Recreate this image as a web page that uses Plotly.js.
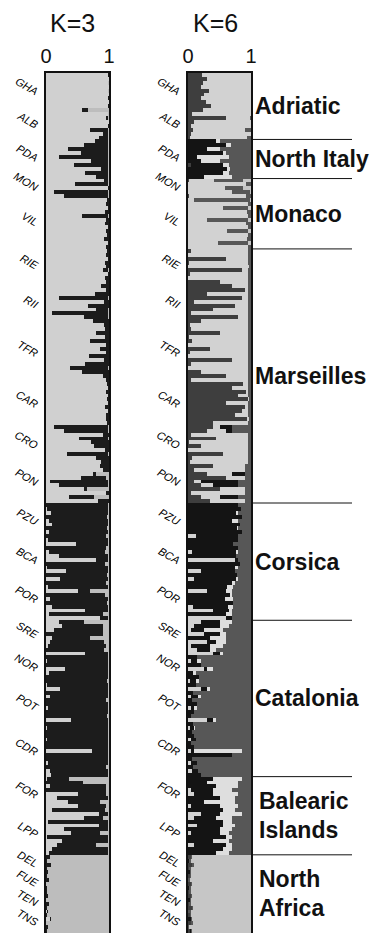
<!DOCTYPE html>
<html><head><meta charset="utf-8">
<script src="https://cdn.plot.ly/plotly-3.0.1.min.js"></script>
<style>html,body{margin:0;padding:0;background:#fff;} #chart{width:385px;height:933px;}</style>
</head><body><div id="chart"></div>
<script>
// Population codes (top to bottom)
const POPS = ['GHA','ALB','PDA','MON','VIL','RIE','RII','TFR','CAR','CRO','PON','PZU','BCA','POR','SRE','NOR','POT','CDR','FOR','LPP','DEL','FUE','TEN','TNS'];

// K=3 membership (%) per individual: [cluster1 light, cluster2 black, cluster3 grey]
const GHA_K3 = [[99,1,0],[100,0,0],[98,1,1],[100,0,0],[99,0,1],[100,0,0],[98,2,0],[100,0,0],[99,1,0],[57,10,33]];
const ALB_K3 = [[98,1,1],[96,2,2],[100,0,0],[99,1,0],[70,28,2],[90,8,2],[84,14,2]];
const PDA_K3 = [[78,20,2],[60,38,2],[35,63,2],[55,43,2],[20,78,2],[72,26,2],[45,53,2],[88,10,2],[62,36,2],[80,18,2]];
const MON_K3 = [[92,6,2],[46,52,2],[98,2,0],[12,86,2],[28,70,2]];
const VIL_K3 = [[97,3,0],[95,5,0],[98,2,0],[94,6,0],[57,41,2],[96,4,0],[93,7,0],[98,2,0],[95,5,0],[97,3,0],[92,8,0],[98,2,0],[96,4,0]];
const RIE_K3 = [[97,3,0],[95,5,0],[98,2,0],[93,7,0],[96,4,0],[90,8,2],[98,2,0],[94,6,0],[96,4,0]];
const RII_K3 = [[88,12,0],[95,5,0],[78,22,0],[20,78,2],[92,8,0],[66,34,0],[80,18,2],[10,88,2],[60,38,2],[75,25,0],[92,8,0]];
const TFR_K3 = [[93,7,0],[80,20,0],[94,6,0],[70,30,0],[96,4,0],[85,15,0],[95,5,0],[68,32,0],[92,8,0],[62,38,0],[38,60,2],[57,43,0],[90,10,0],[96,4,0]];
const CAR_K3 = [[97,3,0],[98,2,0],[95,5,0],[99,1,0],[97,3,0],[98,2,0],[94,6,0],[98,2,0],[96,4,0],[95,5,0],[97,3,0],[12,86,2]];
const CRO_K3 = [[28,70,2],[90,10,0],[53,45,2],[72,28,0],[76,24,0],[94,6,0],[34,64,2],[80,20,0],[88,12,0]];
const PON_K3 = [[85,15,0],[90,10,0],[74,6,20],[55,40,5],[6,92,2],[20,78,2],[60,5,35],[95,5,0],[36,40,24],[82,18,0]];
const PZU_K3 = [[0,98,2],[2,96,2],[8,90,2],[0,97,3],[4,94,2],[10,88,2],[0,97,3],[5,93,2],[0,96,4],[3,95,2]];
const BCA_K3 = [[48,50,2],[0,96,4],[4,90,6],[20,78,2],[80,18,2],[0,94,6],[2,96,2],[32,66,2],[0,97,3],[22,76,2]];
const POR_K3 = [[0,96,4],[3,95,2],[50,20,30],[0,94,6],[6,92,2],[0,97,3],[10,88,2],[62,36,2],[4,86,10],[86,12,2]];
const SRE_K3 = [[21,40,39],[25,65,10],[12,78,10],[0,90,10],[10,60,30],[6,86,8],[3,93,4],[0,92,8]];
const NOR_K3 = [[62,36,2],[0,98,2],[2,96,2],[0,99,1],[30,68,2],[4,94,2],[0,99,1],[0,97,3],[2,96,2]];
const POT_K3 = [[22,76,2],[0,99,1],[6,92,2],[0,96,4],[0,99,1],[3,95,2],[0,99,1],[0,97,3],[40,58,2],[0,99,1],[2,96,2]];
const CDR_K3 = [[0,98,2],[0,99,1],[2,96,2],[0,99,1],[0,98,2],[73,25,2],[0,99,1],[0,98,2],[3,95,2],[0,96,4],[6,92,2],[8,90,2]];
const FOR_K3 = [[2,34,64],[0,58,42],[6,90,4],[0,95,5],[51,45,4],[18,80,2],[35,50,15],[50,46,4],[10,84,6],[84,14,2]];
const LPP_K3 = [[60,30,10],[3,95,2],[84,14,2],[28,70,2],[40,45,15],[2,96,2],[25,73,2],[18,62,20],[10,88,2],[4,94,2]];
const DEL_K3 = [[0,6,94],[0,2,98],[0,8,92],[0,1,99],[0,3,97]];
const FUE_K3 = [[0,1,99],[0,4,96],[0,0,100],[0,2,98],[0,1,99]];
const TEN_K3 = [[0,3,97],[0,0,100],[0,5,95],[0,1,99],[2,1,97]];
const TNS_K3 = [[0,1,99],[6,2,92],[0,0,100],[0,3,97],[0,1,99]];

// K=6 membership (%) per individual: [c1 dark, c2 light, c3 black, c4 pale, c5 mid-dark, c6 grey]
const GHA_K6 = [[22,78,0,0,0,0],[30,70,0,0,0,0],[24,76,0,0,0,0],[20,80,0,0,0,0],[33,67,0,0,0,0],[26,74,0,0,0,0],[21,79,0,0,0,0],[28,72,0,0,0,0],[36,64,0,0,0,0],[24,76,0,0,0,0]];
const ALB_K6 = [[6,94,0,0,0,0],[60,38,0,0,2,0],[10,90,0,0,0,0],[4,96,0,0,0,0],[8,82,0,0,10,0],[5,95,0,0,0,0],[3,90,0,0,7,0]];
const PDA_K6 = [[0,0,45,5,50,0],[0,0,60,8,32,0],[0,0,30,20,50,0],[0,0,55,5,40,0],[0,0,15,50,35,0],[0,0,20,30,50,0],[5,0,50,10,35,0],[0,0,62,5,33,0],[0,0,55,10,35,0],[0,0,25,45,30,0]];
const MON_K6 = [[2,40,0,0,46,12],[0,92,0,0,8,0],[0,58,0,0,30,12],[0,70,0,0,28,2],[2,90,0,0,8,0]];
const VIL_K6 = [[0,10,0,0,88,2],[0,96,0,0,4,0],[0,55,0,0,40,5],[0,94,0,0,6,0],[0,96,0,0,4,0],[0,30,0,0,66,4],[0,92,0,0,8,0],[0,95,0,0,5,0],[0,62,0,0,34,4],[0,95,0,0,5,0],[0,93,0,0,7,0],[0,48,0,0,48,4],[0,96,0,0,4,0]];
const RIE_K6 = [[4,92,0,0,4,0],[0,96,0,0,4,0],[60,36,0,0,4,0],[2,94,0,0,4,0],[0,97,0,0,3,0],[85,10,0,0,5,0],[3,93,0,0,4,0],[0,95,0,0,5,0],[50,46,0,0,4,0]];
const RII_K6 = [[70,26,0,0,4,0],[90,6,0,0,4,0],[30,66,0,0,4,0],[85,11,0,0,4,0],[10,86,0,0,4,0],[75,21,0,0,4,0],[40,56,0,0,4,0],[5,91,0,0,4,0],[80,16,0,0,4,0],[20,76,0,0,4,0],[3,93,0,0,4,0]];
const TFR_K6 = [[4,92,0,0,4,0],[50,46,0,0,4,0],[2,94,0,0,4,0],[6,90,0,0,4,0],[0,96,0,0,4,0],[35,61,0,0,4,0],[3,93,0,0,4,0],[0,95,0,0,5,0],[70,26,0,0,4,0],[4,92,0,0,4,0],[0,96,0,0,4,0],[20,76,0,0,4,0],[60,36,0,0,4,0],[5,91,0,0,4,0]];
const CAR_K6 = [[88,8,0,0,4,0],[70,26,0,0,4,0],[92,4,0,0,4,0],[80,16,0,0,4,0],[95,2,0,0,3,0],[60,36,0,0,4,0],[90,6,0,0,4,0],[85,11,0,0,4,0],[75,21,0,0,4,0],[93,4,0,0,3,0],[40,56,0,0,4,0],[40,10,20,0,30,0]];
const CRO_K6 = [[30,30,10,0,30,0],[4,92,0,0,4,0],[45,51,0,0,4,0],[2,94,0,0,4,0],[20,76,0,0,4,0],[0,96,0,0,4,0],[55,41,0,0,4,0],[6,90,0,0,4,0],[3,93,0,0,4,0]];
const PON_K6 = [[40,50,0,0,10,0],[10,80,0,0,10,0],[30,40,20,0,10,0],[60,30,0,0,10,0],[10,10,60,0,20,0],[20,20,40,0,20,0],[50,40,0,0,10,0],[5,85,0,0,10,0],[20,30,30,0,20,0],[35,55,0,0,10,0]];
const PZU_K6 = [[0,0,80,0,20,0],[0,0,84,0,16,0],[0,0,76,4,20,0],[0,0,86,0,14,0],[0,0,70,10,20,0],[0,0,82,0,18,0],[0,0,78,2,20,0],[0,0,85,0,15,0],[0,12,68,0,20,0],[0,0,80,0,20,0]];
const BCA_K6 = [[0,0,72,0,28,0],[0,0,80,0,20,0],[0,6,70,4,20,0],[0,0,76,0,24,0],[0,75,5,0,20,0],[0,0,82,0,18,0],[0,0,74,6,20,0],[0,20,55,0,25,0],[0,0,78,0,22,0],[0,10,66,4,20,0]];
const POR_K6 = [[0,0,70,5,25,0],[0,0,62,10,28,0],[0,30,30,10,30,0],[0,0,66,4,30,0],[0,0,58,14,28,0],[0,0,72,0,28,0],[0,8,56,8,28,0],[0,40,25,5,30,0],[0,0,60,10,30,0],[0,60,10,0,30,0]];
const SRE_K6 = [[0,20,30,20,30,0],[0,10,40,15,35,0],[0,5,20,30,45,0],[0,25,25,10,40,0],[0,0,35,25,40,0],[0,30,15,15,40,0],[0,5,30,20,45,0],[0,15,20,10,55,0]];
const NOR_K6 = [[0,40,10,5,45,0],[0,0,15,0,85,0],[0,5,10,5,80,0],[0,0,20,0,80,0],[0,25,5,10,60,0],[0,0,8,4,88,0],[0,0,18,0,82,0],[0,3,10,5,82,0],[0,0,12,0,88,0]];
const POT_K6 = [[0,20,10,5,65,0],[0,0,8,0,92,0],[0,4,12,4,80,0],[0,0,6,0,94,0],[0,0,14,0,86,0],[0,5,5,5,85,0],[0,0,10,0,90,0],[0,0,4,0,96,0],[0,30,10,5,55,0],[0,0,8,0,92,0],[0,3,6,2,89,0]];
const CDR_K6 = [[0,0,6,0,94,0],[0,0,10,0,90,0],[0,4,8,0,88,0],[0,0,5,0,95,0],[0,0,10,0,90,0],[0,5,5,75,15,0],[0,0,70,0,30,0],[0,0,6,0,94,0],[0,4,10,0,86,0],[0,0,8,0,92,0],[0,6,10,0,84,0],[0,0,20,0,80,0]];
const FOR_K6 = [[0,0,40,45,15,0],[0,0,30,50,20,0],[0,0,45,35,20,0],[0,5,35,30,30,0],[0,10,30,40,20,0],[0,0,50,25,25,0],[0,0,25,50,25,0],[0,5,45,30,20,0],[0,0,55,20,25,0],[0,20,30,35,15,0]];
const LPP_K6 = [[0,10,35,25,30,0],[0,0,55,15,30,0],[0,15,40,20,25,0],[0,0,50,20,30,0],[0,5,45,15,35,0],[0,0,60,10,30,0],[0,0,40,25,35,0],[0,10,50,10,30,0],[0,0,55,15,30,0],[0,0,45,20,35,0]];
const DEL_K6 = [[4,0,0,0,2,94],[0,0,2,0,2,96],[6,0,0,0,3,91],[2,0,0,0,2,96],[0,0,3,0,2,95]];
const FUE_K6 = [[3,0,0,0,2,95],[0,0,0,0,3,97],[5,0,0,0,2,93],[0,0,2,0,2,96],[2,0,0,0,3,95]];
const TEN_K6 = [[4,0,0,0,2,94],[0,0,3,0,2,95],[2,0,0,0,3,95],[6,0,0,0,2,92],[0,0,0,0,4,96]];
const TNS_K6 = [[3,0,0,0,2,95],[0,0,4,0,2,94],[5,0,0,0,3,92],[0,0,0,0,2,98],[3,0,2,0,2,93]];

const REGIONS = [['Adriatic'],['North Italy'],['Monaco'],['Marseilles'],['Corsica'],['Catalonia'],['Balearic','Islands'],['North','Africa']];
const REGION_START = ['GHA','PDA','MON','RIE','PZU','SRE','FOR','DEL'];

const K3_POP_ROWS = [GHA_K3,ALB_K3,PDA_K3,MON_K3,VIL_K3,RIE_K3,RII_K3,TFR_K3,CAR_K3,CRO_K3,PON_K3,PZU_K3,BCA_K3,POR_K3,SRE_K3,NOR_K3,POT_K3,CDR_K3,FOR_K3,LPP_K3,DEL_K3,FUE_K3,TEN_K3,TNS_K3];
const K6_POP_ROWS = [GHA_K6,ALB_K6,PDA_K6,MON_K6,VIL_K6,RIE_K6,RII_K6,TFR_K6,CAR_K6,CRO_K6,PON_K6,PZU_K6,BCA_K6,POR_K6,SRE_K6,NOR_K6,POT_K6,CDR_K6,FOR_K6,LPP_K6,DEL_K6,FUE_K6,TEN_K6,TNS_K6];

const K3_COLORS = ['#d0d0d0','#1c1c1c','#bdbdbd'];
const K6_COLORS = ['#3e3e3e','#d2d2d2','#141414','#dedede','#575757','#c6c6c6'];

const W = 385, H = 933, TOP = 73;
const popStart = []; let n = 0;
K3_POP_ROWS.forEach(r => { popStart.push(n); n += r.length; });
const NROWS = n;
const k3 = [].concat(...K3_POP_ROWS);
const k6 = [].concat(...K6_POP_ROWS);
const ys = k3.map((_, i) => i);

const traces = [];
K3_COLORS.forEach((c, k) => traces.push({type:'bar', orientation:'h', x:k3.map(r => r[k]/100), y:ys, xaxis:'x', yaxis:'y', width:1, marker:{color:c, line:{width:0}}, hoverinfo:'skip', showlegend:false}));
K6_COLORS.forEach((c, k) => traces.push({type:'bar', orientation:'h', x:k6.map(r => r[k]/100), y:ys, xaxis:'x2', yaxis:'y2', width:1, marker:{color:c, line:{width:0}}, hoverinfo:'skip', showlegend:false}));

const tickvals = POPS.map((p, i) => popStart[i] + (K3_POP_ROWS[i].length - 1) / 2);
const ydom = [0, (H - TOP) / H];
function yax(anchor) {
  return {domain:ydom, range:[NROWS - 0.5, -0.5], anchor:anchor, tickmode:'array', tickvals:tickvals, ticktext:POPS,
    tickangle:30, tickfont:{family:'Arial', size:11, style:'italic', color:'#000'}, ticks:'', ticklabelstandoff:4,
    showgrid:false, zeroline:false, showline:true, mirror:true, linewidth:2, linecolor:'#111', fixedrange:true};
}
function xax(l, r, anchor) {
  return {domain:[l / W, r / W], range:[0, 1], side:'top', anchor:anchor, tickmode:'array', tickvals:[0, 1], ticktext:['0', '1'],
    tickfont:{family:'Arial', size:20, color:'#111'}, ticks:'', showgrid:false, zeroline:false,
    showline:true, mirror:true, linewidth:2, linecolor:'#111', fixedrange:true};
}

const shapes = [];
const annotations = [];
REGION_START.forEach((p, i) => {
  const s = popStart[POPS.indexOf(p)];
  const e = i + 1 < REGION_START.length ? popStart[POPS.indexOf(REGION_START[i + 1])] : NROWS;
  if (i > 0) shapes.push({type:'line', xref:'paper', yref:'y2', x0:252 / W, x1:352 / W, y0:s - 0.5, y1:s - 0.5, line:{color:'#111', width:1}});
  const lines = REGIONS[i];
  lines.forEach((t, j) => {
    const shift = lines.length === 1 ? 0 : (j === 0 ? 14.5 : -14.5);
    annotations.push({text:t, xref:'paper', yref:'y2', x:(lines.length > 1 ? 257 : 253) / W, y:(s + e) / 2 - 0.5, yshift:shift,
      xanchor:'left', yanchor:'middle', showarrow:false, font:{family:'Arial', size:23, weight:'bold', color:'#111'}});
  });
});
annotations.push({text:'K=3', xref:'paper', yref:'paper', x:72 / W, y:1 - 23 / H, xanchor:'center', yanchor:'middle', showarrow:false, font:{family:'Arial', size:25, color:'#111'}});
annotations.push({text:'K=6', xref:'paper', yref:'paper', x:215 / W, y:1 - 23 / H, xanchor:'center', yanchor:'middle', showarrow:false, font:{family:'Arial', size:25, color:'#111'}});

const layout = {
  width:W, height:H, margin:{l:0, r:0, t:0, b:0}, paper_bgcolor:'#fff', plot_bgcolor:'#fff',
  barmode:'stack', bargap:0, showlegend:false,
  xaxis:xax(46, 109, 'y'), yaxis:yax('x'),
  xaxis2:xax(188, 251, 'y2'), yaxis2:yax('x2'),
  shapes:shapes, annotations:annotations
};
Plotly.newPlot('chart', traces, layout, {staticPlot:true, displayModeBar:false});
</script>
</body></html>
